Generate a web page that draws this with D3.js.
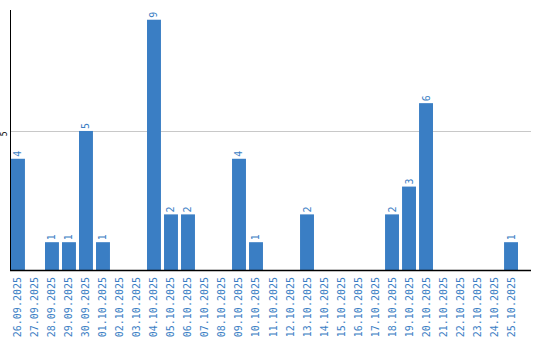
<!DOCTYPE html>
<html>
<head>
<meta charset="utf-8">
<script src="https://cdn.jsdelivr.net/npm/d3@7"></script>
<style>
    body { margin: 0; background: #fff; }
    text { font-family: "DejaVu Sans Mono", "Liberation Mono", monospace; }
</style>
</head>
<body>
<div id="chart"></div>
<script>
// dates shown on the x axis
let dates = ["26.09.2025", "27.09.2025", "28.09.2025", "29.09.2025", "30.09.2025",
    "01.10.2025", "02.10.2025", "03.10.2025", "04.10.2025", "05.10.2025",
    "06.10.2025", "07.10.2025", "08.10.2025", "09.10.2025", "10.10.2025",
    "11.10.2025", "12.10.2025", "13.10.2025", "14.10.2025", "15.10.2025",
    "16.10.2025", "17.10.2025", "18.10.2025", "19.10.2025", "20.10.2025",
    "21.10.2025", "22.10.2025", "23.10.2025", "24.10.2025", "25.10.2025"];

// count per day
let counts = [4, 0, 1, 1, 5, 1, 0, 0, 9, 2, 2, 0, 0, 4, 1, 0, 0, 2, 0, 0, 0, 0, 2, 3, 6, 0, 0, 0, 0, 1];

let yTicks = [5];

let data = dates.map((d, i) => ({date: d, value: counts[i]}));

let width = 540, height = 340;
let margin = {top: 10, right: 9, bottom: 70, left: 11};
let barColor = "#3a7ec4";

let svg = d3.select("#chart").append("svg")
    .attr("width", width)
    .attr("height", height);

// scales
let x = d3.scaleBand()
    .domain(dates)
    .range([margin.left, 518])
    .paddingInner(0.18)
    .paddingOuter(0);

let y = d3.scaleLinear()
    .domain([0, 9.35])
    .range([height - margin.bottom, margin.top]);

// grid line
svg.append("g")
    .selectAll("line")
    .data(yTicks)
    .enter()
    .append("line")
    .attr("x1", margin.left)
    .attr("x2", width - margin.right)
    .attr("y1", d => Math.round(y(d)) + 0.5)
    .attr("y2", d => Math.round(y(d)) + 0.5)
    .attr("stroke", "#c8c8c8")
    .attr("stroke-width", 1);

// y tick labels (rotated)
svg.append("g")
    .selectAll("text")
    .data(yTicks)
    .enter()
    .append("text")
    .attr("transform", d => `translate(7, ${y(d) + 3}) rotate(-90)`)
    .attr("text-anchor", "middle")
    .attr("font-size", "8px")
    .attr("fill", "#000")
    .text(d => d);

// bars
svg.append("g")
    .selectAll(".bar")
    .data(data.filter(d => d.value > 0))
    .enter()
    .append("rect")
    .attr("class", "bar")
    .attr("x", d => x(d.date))
    .attr("y", d => y(d.value))
    .attr("width", x.bandwidth())
    .attr("height", d => y(0) - y(d.value))
    .attr("fill", barColor);

// value labels above bars
svg.append("g")
    .selectAll("text")
    .data(data.filter(d => d.value > 0))
    .enter()
    .append("text")
    .attr("transform", d => `translate(${x(d.date) + x.bandwidth() / 2 + 3.5}, ${y(d.value) - 2}) rotate(-90)`)
    .attr("text-anchor", "start")
    .attr("font-size", "10px")
    .attr("fill", barColor)
    .text(d => d.value);

// axes lines
svg.append("line")
    .attr("x1", margin.left - 0.5)
    .attr("x2", margin.left - 0.5)
    .attr("y1", margin.top)
    .attr("y2", y(0))
    .attr("stroke", "#000")
    .attr("stroke-width", 1);

svg.append("line")
    .attr("x1", margin.left - 1)
    .attr("x2", width - margin.right)
    .attr("y1", y(0) + 0.5)
    .attr("y2", y(0) + 0.5)
    .attr("stroke", "#000")
    .attr("stroke-width", 1.5);

// x labels
svg.append("g")
    .selectAll("text")
    .data(dates)
    .enter()
    .append("text")
    .attr("transform", d => `translate(${x(d) + x.bandwidth() / 2 + 3.5}, ${y(0) + 7}) rotate(-90)`)
    .attr("text-anchor", "end")
    .attr("font-size", "10px")
    .attr("fill", barColor)
    .text(d => d);
</script>
</body>
</html>
